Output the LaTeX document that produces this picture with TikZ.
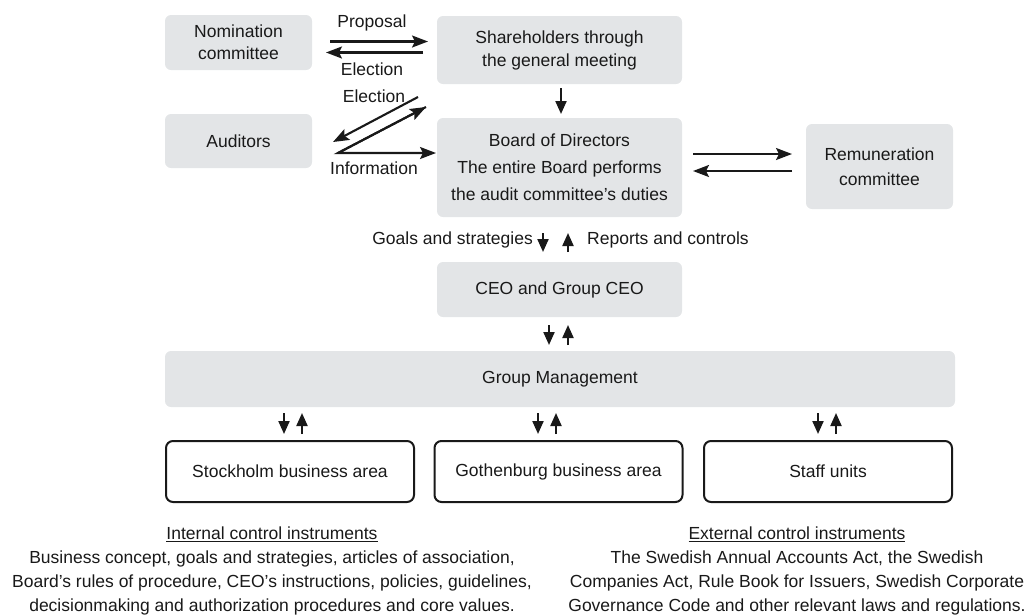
\documentclass[tikz,border=0pt]{standalone}
\usepackage{fontspec}
\setmainfont{Liberation Sans}
\usetikzlibrary{arrows.meta,calc}
\definecolor{boxgray}{RGB}{227,229,231}
\definecolor{ink}{RGB}{25,25,25}
\begin{document}
\begin{tikzpicture}[x=1pt,y=-1pt,
  txt/.style={text=ink, font=\fontsize{17.5}{22}\selectfont},
  graybox/.style={txt, fill=boxgray, rounded corners=6pt, inner sep=0pt, outer sep=0pt, align=center},
  whitebox/.style={txt, draw=ink, line width=2pt, rounded corners=7pt, inner sep=0pt, outer sep=0pt, align=center, minimum width=248pt, minimum height=61pt},
  lbl/.style={txt, inner sep=0pt, anchor=mid},
  arr/.style={draw=ink, line width=2.1pt, -{Stealth[length=16pt,width=12pt,inset=3pt]}},
  varr/.style={draw=ink, line width=2.1pt, -{Triangle[length=13pt,width=11pt]}},
]
\useasboundingbox (0,0) rectangle (1027,614);

% boxes
\node[graybox, minimum width=147pt, minimum height=55pt] (nom) at (238.5,42.5) {Nomination\\committee};
\node[graybox, minimum width=245pt, minimum height=68pt, font=\fontsize{17.5}{23}\selectfont] (share) at (559.5,50) {Shareholders through\\the general meeting};
\node[graybox, minimum width=147pt, minimum height=54pt] (aud) at (238.5,141) {Auditors};
\node[graybox, minimum width=245pt, minimum height=99pt, font=\fontsize{17.5}{27}\selectfont] (board) at (559.5,167.5) {Board of Directors\\The entire Board performs\\the audit committee’s duties};
\node[graybox, minimum width=147pt, minimum height=85pt, font=\fontsize{17.5}{25}\selectfont] (rem) at (879.5,166.5) {Remuneration\\committee};
\node[graybox, minimum width=245pt, minimum height=55pt] (ceo) at (559.5,289.5) {CEO and Group CEO};
\node[graybox, minimum width=790pt, minimum height=56pt] (gm) at (560,379) {Group Management};
\node[whitebox] (sto) at (290,471.5) {Stockholm business area};
\node[whitebox] (got) at (558.5,471.5) {Gothenburg business area};
\node[whitebox] (staff) at (828,471.5) {Staff units};

% labels
\node[lbl] (lprop) at (372,25) {Proposal};
\node[lbl] (lel1) at (372,73) {Election};
\node[lbl] (lel2) at (374,100) {Election};
\node[lbl] (linfo) at (374,172) {Information};
\node[lbl, anchor=mid east] (lgoals) at ($(board.south)+(-26.5,25)$) {Goals and strategies};
\node[lbl, anchor=mid west] (lrep) at ($(board.south)+(27.5,25)$) {Reports and controls};

% nomination <-> shareholders
\draw[arr] ($(nom.east)+(18,-1)$) -- ($(share.west |- nom.east)+(-9,-1)$);
\draw[arr] ($(share.west |- nom.east)+(-14,10)$) -- ($(nom.east)+(14,10)$);

% election to auditors, information from auditors
\draw[arr] ($(board.west)+(-19,-70.5)$) -- ($(aud.east)+(21,1)$);
\coordinate (info) at ($(aud.east)+(26,12)$);
\draw[arr, line join=miter] ($(board.west)+(-11,-60.5)$) -- (info) -- ($(board.west |- info)+(-1,0)$);
\draw[arr] (info) -- ($(board.west)+(-11,-60.5)$);

% shareholders -> board
\draw[varr] ($(share.south)+(1.5,4)$) -- ($(board.north)+(1.5,-4)$);

% board <-> remuneration
\draw[arr] ($(board.east)+(11,-13.5)$) -- ($(rem.west |- board.east)+(-14,-13.5)$);
\draw[arr] ($(rem.west |- board.east)+(-14,3.5)$) -- ($(board.east)+(11,3.5)$);

% board <-> ceo
\draw[varr] ($(board.south)+(-16.5,16)$) -- ($(ceo.north)+(-16.5,-10)$);
\draw[varr] ($(ceo.north)+(8.5,-10)$) -- ($(board.south)+(8.5,16)$);

% ceo <-> gm
\draw[varr] ($(ceo.south)+(-10.5,8)$) -- ($(ceo.south |- gm.north)+(-10.5,-6)$);
\draw[varr] ($(ceo.south |- gm.north)+(8.5,-6)$) -- ($(ceo.south)+(8.5,8)$);

% gm <-> business areas
\draw[varr] ($(gm.south -| sto.north)+(-6,6)$) -- ($(sto.north)+(-6,-7)$);
\draw[varr] ($(sto.north)+(12,-7)$) -- ($(gm.south -| sto.north)+(12,6)$);
\draw[varr] ($(gm.south -| got.north)+(-20.5,6)$) -- ($(got.north)+(-20.5,-7)$);
\draw[varr] ($(got.north)+(-2.5,-7)$) -- ($(gm.south -| got.north)+(-2.5,6)$);
\draw[varr] ($(gm.south -| staff.north)+(-10,6)$) -- ($(staff.north)+(-10,-7)$);
\draw[varr] ($(staff.north)+(8,-7)$) -- ($(gm.south -| staff.north)+(8,6)$);

% control instruments
\node[txt, inner sep=0pt, align=center, font=\fontsize{17.5}{24}\selectfont] (internal) at (272,570.5)
  {\strut\underline{Internal control instruments}\\
   \strut Business concept, goals and strategies, articles of association,\\
   \strut Board’s rules of procedure, CEO’s instructions, policies, guidelines,\\
   \strut decisionmaking and authorization procedures and core values.};
\node[txt, inner sep=0pt, align=center, font=\fontsize{17.5}{24}\selectfont] (external) at (797,570.5)
  {\strut\underline{External control instruments}\\
   \strut The Swedish Annual Accounts Act, the Swedish\\
   \strut Companies Act, Rule Book for Issuers, Swedish Corporate\\
   \strut Governance Code and other relevant laws and regulations.};
\end{tikzpicture}
\end{document}
